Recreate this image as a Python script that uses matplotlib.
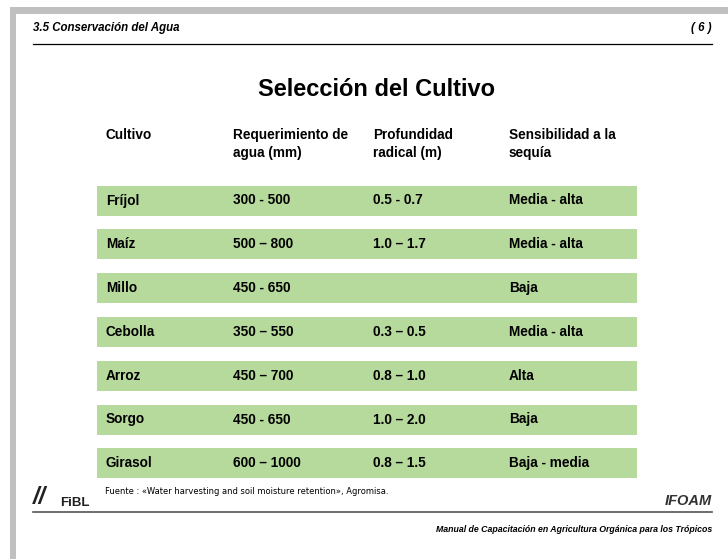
import matplotlib
matplotlib.use("Agg")
import matplotlib.pyplot as plt

plt.rcParams['font.family'] = ['Liberation Sans', 'DejaVu Sans']

# datos de la tabla
cultivos = ["Fríjol", "Maíz", "Millo", "Cebolla", "Arroz", "Sorgo", "Girasol"]
agua = ["300 - 500", "500 – 800", "450 - 650", "350 – 550", "450 – 700", "450 - 650", "600 – 1000"]
raiz = ["0.5 - 0.7", "1.0 – 1.7", "", "0.3 – 0.5", "0.8 – 1.0", "1.0 – 2.0", "0.8 – 1.5"]
sequia = ["Media - alta", "Media - alta", "Baja", "Media - alta", "Alta", "Baja", "Baja - media"]
encabezados = ["Cultivo", "Requerimiento de\nagua (mm)", "Profundidad\nradical (m)", "Sensibilidad a la\nsequía"]

W, H = 728, 559
fig = plt.figure(figsize=(W / 100, H / 100), dpi=100)
ax = fig.add_axes([0, 0, 1, 1])
ax.set_xlim(0, W)
ax.set_ylim(H, 0)
ax.axis('off')

gris = '#c0c0c0'
verde = '#b6d99c'

# marco gris
ax.add_patch(plt.Rectangle((10, 7), W - 10, 7, color=gris, lw=0))
ax.add_patch(plt.Rectangle((10, 7), 6, H - 7, color=gris, lw=0))

# cabecera
ax.text(33, 28, "3.5 Conservación del Agua", fontsize=8.3, fontweight='bold', style='italic', va='center')
ax.text(712, 28, "( 6 )", fontsize=8.3, fontweight='bold', style='italic', va='center', ha='right')
ax.plot([33, 712], [44, 44], color='black', lw=0.9)

ax.text(377, 89, "Selección del Cultivo", fontsize=17, fontweight='bold', ha='center', va='center')

# encabezados de columnas
col_x = [106, 233, 373, 509]
for x, t in zip(col_x, encabezados):
    ax.text(x, 128, t, fontsize=9.8, fontweight='bold', va='top', linespacing=1.35)

# filas
y0, paso, alto = 200.5, 43.8, 30
for i in range(len(cultivos)):
    y = y0 + i * paso
    ax.barh(y, 540, left=97, height=alto, color=verde, lw=0)
    fila = [cultivos[i], agua[i], raiz[i], sequia[i]]
    for x, t in zip(col_x, fila):
        ax.text(x, y, t, fontsize=9.8, fontweight='bold', va='center')

# pie
ax.text(105, 491, "Fuente : «Water harvesting and soil moisture retention», Agromisa.",
        fontsize=6.0, family=['DejaVu Sans'], va='center')
ax.text(33, 498, "//", fontsize=17, fontweight='bold', style='italic', va='center', color='#222222')
ax.text(60, 503, "FiBL", fontsize=9.5, fontweight='bold', va='center', color='#222222')
ax.text(712, 501, "IFOAM", fontsize=10.5, fontweight='bold', style='italic', va='center', ha='right', color='#333333')
ax.plot([33, 712], [512, 512], color='#555555', lw=1.2)
ax.text(712, 530, "Manual de Capacitación en Agricultura Orgánica para los Trópicos",
        fontsize=6.3, fontweight='bold', style='italic', va='center', ha='right')

fig.savefig("out.png", dpi=100)
